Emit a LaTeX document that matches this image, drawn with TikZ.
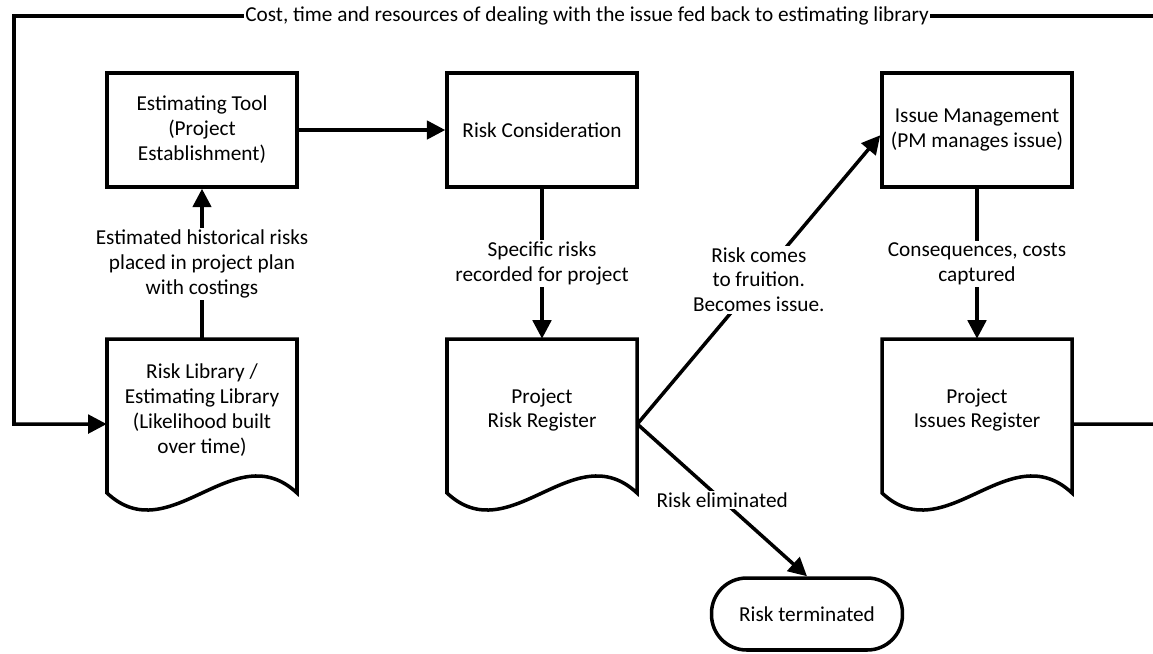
\documentclass[tikz,border=0pt]{standalone}
\usepackage{fontspec}
\setmainfont{Carlito}
\usetikzlibrary{positioning,arrows.meta}

\tikzset{
  heavy/.style={line width=2pt},
  txt/.style={font=\fontsize{12.1}{14.2}\selectfont, align=center},
  box/.style={txt, heavy, draw, minimum width=3.8cm, minimum height=2.28cm},
  doc/.style={txt, minimum width=3.8cm, minimum height=2.84cm},
  term/.style={txt, heavy, draw, rounded corners=20pt, minimum width=3.82cm, minimum height=1.44cm},
  lbl/.style={txt, fill=white, inner sep=1pt},
  flow/.style={heavy, -{Triangle[length=10.5pt,width=10.5pt]}},
}

% wavy document outline, x is the centre
\newcommand{\docshape}[1]{%
  \draw[heavy] (#1-95,339) -- (#1+95,339) -- (#1+95,493)
    .. controls (#1+32,434) and (#1-32,552) .. (#1-95,493) -- cycle;}

\begin{document}
\begin{tikzpicture}[x=0.02cm,y=-0.02cm]
  \useasboundingbox (0,0) rectangle (1153,653);

  % boxes
  \node[box] (tool) at (202,130) {Estimating Tool\\(Project\\Establishment)};
  \node[box] (cons) at (542,130) {Risk Consideration};
  \node[box] (issue) at (977,130) {Issue Management\\(PM manages issue)};

  % documents
  \docshape{202}
  \docshape{542}
  \docshape{977}
  \node[doc] (lib) at (202,410) {Risk Library /\\Estimating Library\\(Likelihood built\\over time)};
  \node[doc] (reg) at (542,410) {Project\\Risk Register};
  \node[doc] (ireg) at (977,410) {Project\\Issues Register};

  \node[term] (end) at (807,614) {Risk terminated};

  % loop corners
  \coordinate (re) at (1160,424);
  \coordinate (rt) at (1160,16);
  \coordinate (lt) at (14,16);
  \coordinate (lb) at (14,424);

  % connectors
  \draw[flow] (tool) -- (cons);
  \draw[flow] (lib) -- node[lbl] {Estimated historical risks\\placed in project plan\\with costings} (tool);
  \draw[flow] (cons) -- node[lbl] {Specific risks\\recorded for project} (reg);
  \draw[flow] (issue) -- node[lbl] {Consequences, costs\\captured} (ireg);
  \draw[flow] ([yshift=-8pt]reg.east) -- node[lbl] {Risk comes\\to fruition.\\Becomes issue.} ([yshift=-3pt]issue.west);
  \draw[flow] ([yshift=-8pt]reg.east) -- node[lbl] {Risk eliminated} (end.north);
  \draw[flow] ([yshift=-8pt]ireg.east) -- (re) -- (rt)
    -- node[lbl] {Cost, time and resources of dealing with the issue fed back to estimating library} (lt)
    -- (lb) -- ([yshift=-8pt]lib.west);
\end{tikzpicture}
\end{document}
